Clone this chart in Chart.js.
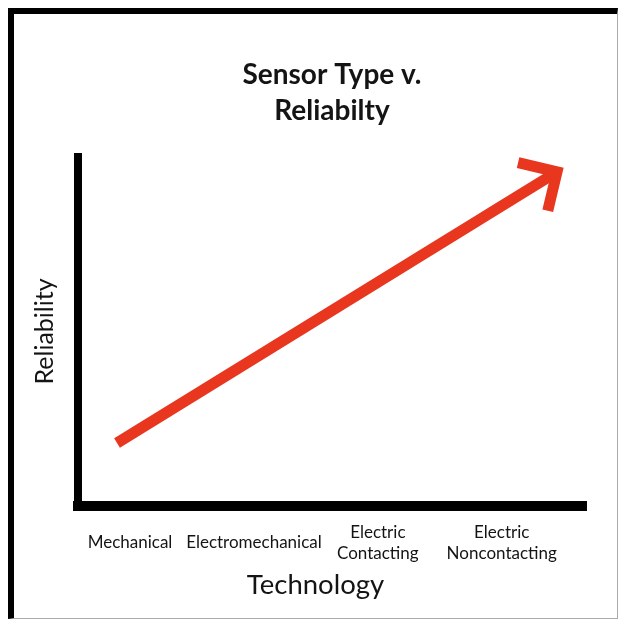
<!DOCTYPE html>
<html>
<head>
<meta charset="utf-8">
<script src="https://cdn.jsdelivr.net/npm/chart.js@4"></script>
<style>
  html, body { margin: 0; padding: 0; background: #fff; }
  .wrap { position: relative; width: 619px; height: 620px; }
  .frame {
    position: absolute; left: 8px; top: 8px; width: 610px; height: 611px;
    box-sizing: border-box;
    border-left: 6px solid #000; border-top: 6px solid #000;
    border-right: 1px solid #aaa; border-bottom: 1px solid #aaa;
  }
  canvas { position: absolute; left: 0; top: 0; }
</style>
</head>
<body>
<div class="wrap">
  <div class="frame"></div>
  <canvas id="sensorChart" width="619" height="620"></canvas>
</div>
<script>
// categories along the bottom
const categories = ['Mechanical', 'Electromechanical', ['Electric', 'Contacting'], ['Electric', 'Noncontacting']];
// trend arrow, tail -> head (x in category units, y in 0..10 reliability)
const trendX = [0.395, 3.946];
const trendY = [1.805, 9.57];

const FONT = 'Lato, "Open Sans", sans-serif';
const INK = '#141414';
const RED = '#e8361f';

// open chevron head at the end of the trend line
const arrowHead = {
  id: 'arrowHead',
  afterDatasetsDraw(chart) {
    const pts = chart.getDatasetMeta(0).data;
    if (pts.length < 2) return;
    const a = pts[pts.length - 2], b = pts[pts.length - 1];
    const back = Math.atan2(a.y - b.y, a.x - b.x);
    const len = 40, spread = Math.PI / 4;
    const ctx = chart.ctx;
    ctx.save();
    ctx.strokeStyle = RED;
    ctx.lineWidth = 11;
    ctx.lineJoin = 'miter';
    ctx.lineCap = 'butt';
    ctx.beginPath();
    ctx.moveTo(b.x + len * Math.cos(back + spread), b.y + len * Math.sin(back + spread));
    ctx.lineTo(b.x, b.y);
    ctx.lineTo(b.x + len * Math.cos(back - spread), b.y + len * Math.sin(back - spread));
    ctx.stroke();
    ctx.restore();
  }
};

new Chart(document.getElementById('sensorChart'), {
  type: 'line',
  data: {
    datasets: [{
      data: trendX.map((x, i) => ({ x: x, y: trendY[i] })),
      borderColor: RED,
      borderWidth: 11,
      borderCapStyle: 'butt',
      pointRadius: 0,
      tension: 0,
      clip: false
    }]
  },
  options: {
    responsive: false,
    animation: false,
    devicePixelRatio: 1,
    layout: { padding: { left: 12, right: 0, top: 0, bottom: 0 } },
    plugins: {
      legend: { display: false },
      tooltip: { enabled: false },
      title: {
        display: true,
        fullSize: false,
        text: ['Sensor Type v.', 'Reliabilty'],
        color: INK,
        font: { family: FONT, size: 28, weight: 'bold', lineHeight: 1.32 },
        padding: { top: 56, bottom: 27 }
      },
      subtitle: {
        display: true,
        position: 'bottom',
        text: 'Technology',
        color: INK,
        font: { family: FONT, size: 27.5, weight: 'normal', lineHeight: 1.09 },
        padding: { top: 4, bottom: 20 }
      }
    },
    scales: {
      x: {
        type: 'linear',
        min: 0.08,
        max: 4.18,
        afterBuildTicks: (scale) => {
          scale.ticks = categories.map((c, i) => ({ value: i + 0.5 }));
        },
        afterFit: (scale) => { scale.height = 60; },
        grid: { display: false, drawTicks: false },
        border: { display: true, color: '#000', width: 10 },
        ticks: {
          autoSkip: false,
          maxRotation: 0,
          crossAlign: 'center',
          padding: 26,
          color: INK,
          font: { family: FONT, size: 17, lineHeight: 1.235 },
          callback: (value, index) => categories[index]
        }
      },
      y: {
        type: 'linear',
        min: 0,
        max: 10,
        afterFit: (scale) => { scale.width = 66; },
        grid: { display: false, drawTicks: false },
        border: { display: true, color: '#000', width: 8 },
        ticks: { display: false },
        title: {
          display: true,
          text: 'Reliability',
          color: INK,
          font: { family: FONT, size: 25, lineHeight: 1.2 },
          padding: { top: 18, bottom: 0 }
        }
      },
      // empty spacer on the right so the chart area ends where the reference does
      yPad: {
        type: 'linear',
        position: 'right',
        display: true,
        afterFit: (scale) => { scale.width = 33; },
        grid: { display: false, drawTicks: false },
        border: { display: false },
        ticks: { display: false }
      }
    }
  },
  plugins: [arrowHead]
});
</script>
</body>
</html>
